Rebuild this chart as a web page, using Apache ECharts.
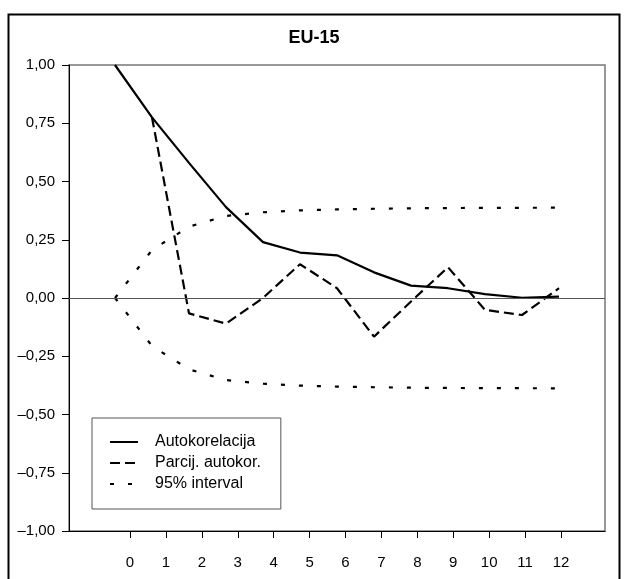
<!DOCTYPE html>
<html>
<head>
<meta charset="utf-8">
<script src="https://cdn.jsdelivr.net/npm/echarts@6/dist/echarts.min.js"></script>
<style>
  html, body { margin: 0; padding: 0; background: #fff; }
  #chart { width: 628px; height: 579px; }
</style>
</head>
<body>
<div id="chart"></div>
<script>
// lags 0..12
var lags = [0, 1, 2, 3, 4, 5, 6, 7, 8, 9, 10, 11, 12];
var autokorelacija = [1.00, 0.775, 0.58, 0.39, 0.24, 0.195, 0.183, 0.11, 0.053, 0.042, 0.017, 0.001, 0.006];
var parcijalna = [null, 0.775, -0.066, -0.11, 0.0, 0.145, 0.042, -0.166, -0.015, 0.132, -0.051, -0.073, 0.042];
var intervalGore = [0, 0.206, 0.306, 0.352, 0.368, 0.376, 0.380, 0.383, 0.385, 0.386, 0.387, 0.387, 0.388];
var intervalDolje = [0, -0.206, -0.306, -0.352, -0.368, -0.376, -0.380, -0.383, -0.385, -0.386, -0.387, -0.387, -0.388];

var font = 'Liberation Sans, Arial, sans-serif';

function pairs(arr) {
    return lags.map(function (l, i) { return [l, arr[i]]; });
}

var dom = document.getElementById('chart');
var myChart = echarts.init(dom);
var option = {
    animation: false,
    backgroundColor: '#fff',
    title: {
        text: 'EU-15',
        left: 'center',
        top: 24,
        textStyle: { fontFamily: font, fontSize: 18, fontWeight: 'bold', color: '#000' }
    },
    graphic: [{
        type: 'rect',
        shape: { x: 8.5, y: 14.5, width: 611, height: 600 },
        style: { fill: 'none', stroke: '#000', lineWidth: 2 },
        silent: true
    }],
    legend: {
        orient: 'vertical',
        left: 92,
        top: 418,
        data: ['Autokorelacija', 'Parcij. autokor.', '95% interval'],
        itemWidth: 28,
        itemHeight: 16,
        itemGap: 5,
        padding: [16, 20, 17, 17],
        borderColor: '#555',
        borderWidth: 1,
        selectedMode: false,
        itemStyle: { opacity: 0 },
        textStyle: { fontFamily: font, fontSize: 16, color: '#000', padding: [0, 0, 0, 12] }
    },
    grid: [
        { left: 69, right: 23, top: 65, bottom: 48, show: true, borderColor: '#777', borderWidth: 1.5, outerBoundsMode: 'none' },
        { left: 130, right: 67, top: 65, bottom: 48, outerBoundsMode: 'none' }
    ],
    xAxis: [
        {
            // data axis: lag i sits at 115 + 37*i px
            type: 'value',
            gridIndex: 0,
            min: -1.243,
            max: 13.243,
            axisLine: { onZero: false, lineStyle: { color: '#000', width: 1 } },
            axisTick: { show: false },
            axisLabel: { show: false },
            splitLine: { show: false }
        },
        {
            // tick labels 0..12
            type: 'value',
            gridIndex: 1,
            min: 0,
            max: 12,
            interval: 1,
            axisLine: { show: false, onZero: false },
            axisTick: { show: true, length: 7, lineStyle: { color: '#000' } },
            axisLabel: { fontFamily: font, fontSize: 15, color: '#000', margin: 24 },
            splitLine: { show: false }
        }
    ],
    yAxis: [
        {
            type: 'value',
            gridIndex: 0,
            min: -1,
            max: 1,
            interval: 0.25,
            axisLine: { show: true, onZero: false, lineStyle: { color: '#000', width: 1 } },
            axisTick: { show: true, length: 7, lineStyle: { color: '#000' } },
            axisLabel: {
                fontFamily: font, fontSize: 15, color: '#000', margin: 14,
                formatter: function (v) {
                    return v.toFixed(2).replace('.', ',').replace('-', '\u2013');
                }
            },
            splitLine: { show: false }
        },
        { type: 'value', gridIndex: 1, min: -1, max: 1, show: false }
    ],
    series: [
        {
            name: 'Autokorelacija',
            type: 'line',
            xAxisIndex: 0, yAxisIndex: 0,
            data: pairs(autokorelacija),
            symbol: 'none',
            lineStyle: { color: '#000', width: 2.2 },
            itemStyle: { color: '#000' },
            markLine: {
                silent: true,
                symbol: 'none',
                label: { show: false },
                lineStyle: { color: '#555', width: 1, type: 'solid' },
                data: [{ yAxis: 0 }]
            }
        },
        {
            name: 'Parcij. autokor.',
            type: 'line',
            xAxisIndex: 0, yAxisIndex: 0,
            data: pairs(parcijalna),
            symbol: 'none',
            lineStyle: { color: '#000', width: 2.2, type: [10, 5] },
            itemStyle: { color: '#000' }
        },
        {
            name: '95% interval',
            type: 'line',
            xAxisIndex: 0, yAxisIndex: 0,
            data: pairs(intervalGore),
            symbol: 'none',
            lineStyle: { color: '#000', width: 2.2, type: [4, 14] },
            itemStyle: { color: '#000' }
        },
        {
            name: '95% interval',
            type: 'line',
            xAxisIndex: 0, yAxisIndex: 0,
            data: pairs(intervalDolje),
            symbol: 'none',
            lineStyle: { color: '#000', width: 2.2, type: [4, 14] },
            itemStyle: { color: '#000' }
        }
    ]
};
myChart.setOption(option, true);

window.onresize = function () {
    myChart.resize();
};
</script>
</body>
</html>
